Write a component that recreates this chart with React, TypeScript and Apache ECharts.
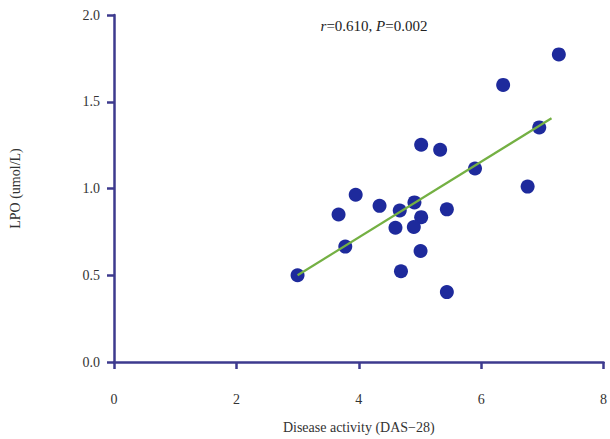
import React, { useEffect, useRef } from "react";
import * as echarts from "echarts";

const dasValues = [3.0, 3.78, 3.67, 3.95, 4.34, 4.67, 4.6, 4.91, 5.02, 4.9, 5.01, 4.69, 5.44, 5.44, 5.02, 5.33, 5.9, 6.76, 6.95, 6.36, 7.27];
const lpoValues = [0.5, 0.665, 0.85, 0.964, 0.9, 0.873, 0.774, 0.92, 0.835, 0.778, 0.64, 0.523, 0.403, 0.88, 1.252, 1.223, 1.115, 1.011, 1.352, 1.597, 1.773];
const fitX = [3.0, 7.15];
const fitY = [0.5, 1.405];
const xTicks = [0, 2, 4, 6, 8];
const yTicks = [0, 0.5, 1.0, 1.5, 2.0];

const AXIS = "#3d3a8e";
const FONT = "Liberation Serif";

export default function App() {
  const ref = useRef<HTMLDivElement>(null);
  useEffect(() => {
    const chart = echarts.init(ref.current!, null, { renderer: "svg" });
    const points = dasValues.map((x, i) => [x, lpoValues[i]]);
    chart.setOption({
      animation: false,
      backgroundColor: "#ffffff",
      grid: { left: 113, right: 5, top: 15, bottom: 71 },
      title: {
        text: "{i|r}=0.610, {i|P}=0.002",
        left: 369,
        top: 13,
        textAlign: "center",
        textStyle: {
          fontFamily: FONT,
          fontSize: 15,
          fontWeight: "normal",
          color: "#222",
          rich: {
            i: { fontFamily: FONT, fontStyle: "italic", fontSize: 15, color: "#222" },
          },
        },
      },
      xAxis: {
        type: "value",
        min: 0,
        max: 8,
        interval: 2,
        name: "Disease activity (DAS\u221228)",
        nameLocation: "middle",
        nameGap: 58,
        nameTextStyle: { fontFamily: FONT, fontSize: 14, color: "#333" },
        axisLine: { show: true, lineStyle: { color: AXIS, width: 2.5 } },
        axisTick: { show: true, inside: false, length: 7, lineStyle: { color: AXIS, width: 2.5 } },
        axisLabel: {
          fontFamily: FONT,
          fontSize: 14,
          color: "#333",
          margin: 30,
          formatter: (v: number) => (xTicks.includes(v) ? String(v) : ""),
        },
        splitLine: { show: false },
      },
      yAxis: {
        type: "value",
        min: 0,
        max: 2,
        interval: 0.5,
        name: "LPO (umol/L)",
        nameLocation: "middle",
        nameGap: 92,
        nameRotate: 90,
        nameTextStyle: { fontFamily: FONT, fontSize: 14, color: "#333" },
        axisLine: { show: true, lineStyle: { color: AXIS, width: 2.5 } },
        axisTick: { show: true, inside: false, length: 7, lineStyle: { color: AXIS, width: 2.5 } },
        axisLabel: {
          fontFamily: FONT,
          fontSize: 14,
          color: "#333",
          margin: 14,
          formatter: (v: number) => (yTicks.includes(v) ? v.toFixed(1) : ""),
        },
        splitLine: { show: false },
      },
      series: [
        {
          type: "scatter",
          data: points,
          symbol: "circle",
          symbolSize: 14,
          itemStyle: { color: "#1e2a9c", opacity: 1 },
          z: 2,
        },
        {
          type: "line",
          data: fitX.map((x, i) => [x, fitY[i]]),
          showSymbol: false,
          symbol: "none",
          lineStyle: { color: "#74b043", width: 2.2 },
          z: 3,
        },
      ],
    });
    return () => chart.dispose();
  }, []);
  return (
    <div
      ref={ref}
      style={{ position: "fixed", left: 0, top: 0, width: 610, height: 439 }}
    />
  );
}
